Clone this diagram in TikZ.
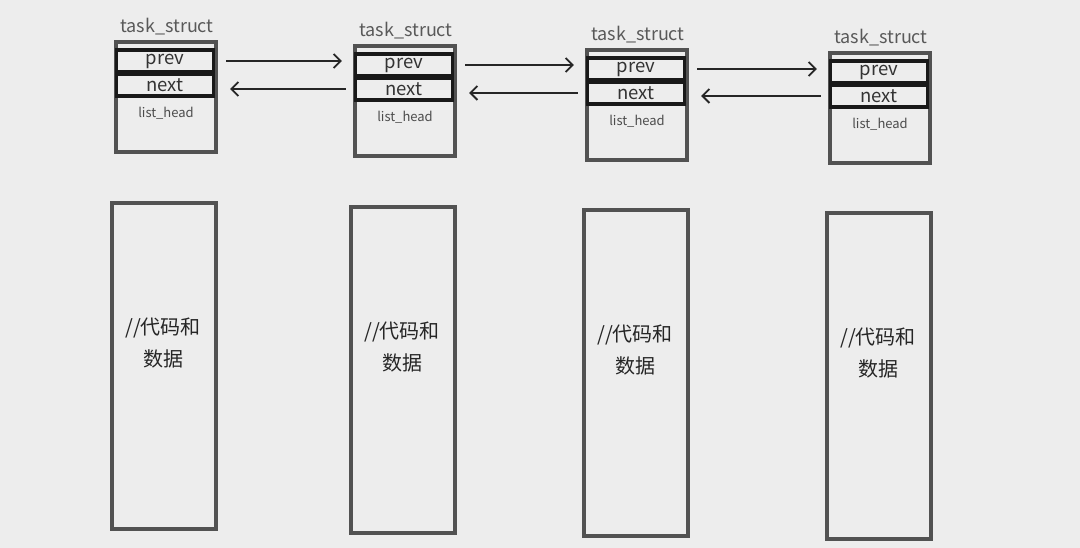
\documentclass[tikz,border=0pt]{standalone}
\usepackage{fontspec}
\setmainfont{Noto Sans CJK SC}
\usetikzlibrary{arrows.meta}

\begin{document}
\begin{tikzpicture}[
    x=1pt, y=-1pt,
    >={Straight Barb[length=7pt, width=14pt]},
    outer/.style={draw=black!68, line width=3.2pt, minimum width=100pt, minimum height=110pt, inner sep=0pt},
    field/.style={draw=black!90, line width=3.4pt, minimum width=97pt, minimum height=22pt, inner sep=0pt, font=\fontsize{18.5}{18.5}\selectfont, text=black!80},
    title/.style={font=\fontsize{18}{18}\selectfont, text=black!65},
    small/.style={font=\fontsize{13}{13}\selectfont, text=black!70},
    datbox/.style={draw=black!68, line width=3.2pt, minimum width=104pt, minimum height=326pt, inner sep=0pt},
    dattext/.style={font=\fontsize{20}{32}\selectfont, text=black!85, align=center},
    link/.style={->, line width=1.8pt, black!85}
]
    \useasboundingbox (0,0) rectangle (1080,548);
    \fill[gray!14] (0,0) rectangle (1080,548);

    % task_struct blocks with their list_head fields
    \foreach \i/\x/\y in {1/116/42, 2/355/46, 3/587/50, 4/830/53} {
        \node[outer] (s\i) at (\x+50, \y+55) {};
        \node[title] (t\i) at (\x+51, \y-15) {task\_struct};
        \node[field] (p\i) at (\x+49, \y+19) {prev};
        \node[field] (n\i) at (\x+49, \y+43) {next};
        \node[small] (h\i) at (\x+50, \y+71) {list\_head};
    }

    % code and data
    \foreach \i/\x/\y in {1/112/203, 2/351/207, 3/584/210, 4/827/213} {
        \node[datbox] (d\i) at (\x+52, \y+163) {};
        \node[dattext] (c\i) at (\x+51, \y+140) {//代码和\\数据};
    }

    % prev/next links
    \foreach \a/\b in {1/2, 2/3, 3/4} {
        \draw[link, shorten <=11pt, shorten >=12pt] (p\a.east) -- (p\a.east -| p\b.west);
        \draw[link, shorten <=8pt, shorten >=15pt] (n\b.west) -- (n\b.west -| n\a.east);
    }
\end{tikzpicture}
\end{document}
